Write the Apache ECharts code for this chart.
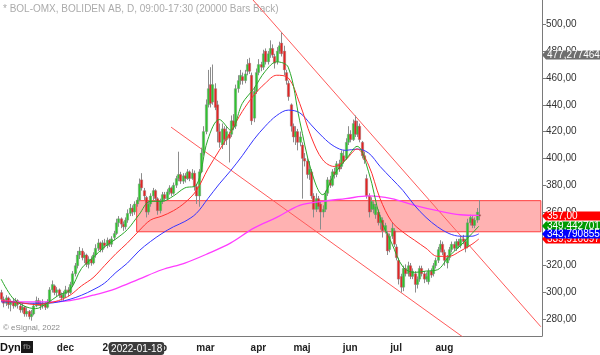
<!DOCTYPE html>
<html>
<head>
<meta charset="utf-8">
<script src="https://cdn.jsdelivr.net/npm/echarts@6/dist/echarts.min.js"></script>
<style>
html, body { margin: 0; padding: 0; background: #fff; }
#chart { width: 600px; height: 355px; }
</style>
</head>
<body>
<div id="chart"></div>
<script>
// trading calendar (OMX Stockholm), first bar and closed days
const firstDay = '2021-10-22'
const holidays = ['2021-12-24', '2021-12-31', '2022-01-06', '2022-04-15', '2022-04-18', '2022-05-26', '2022-06-06', '2022-06-24']
const slotCount = 236 // bars plus empty space on the right

const monthLabels = {
  '2021-12-01': 'dec', '2022-01-03': '2022', '2022-02-01': 'feb', '2022-03-01': 'mar',
  '2022-04-01': 'apr', '2022-05-02': 'maj', '2022-06-01': 'jun', '2022-07-01': 'jul', '2022-08-01': 'aug'
}

// daily bars
const opens = [
  300,295,292,296,291,293,290,294,290,287, 289,284,286,282,284,290,294,292,290,292,
  289,293,302,305,300,302,298,296,299,302, 300,306,314,320,328,331,326,328,321,325,
  322,328,333,337,332,337,335,339,336,341, 344,352,355,351,349,354,359,363,360,366,
  369,384,376,371,360,366,372,376,370,361, 368,373,370,375,378,374,380,385,388,383,
  387,385,390,385,389,379,372,390,404,420, 440,455,442,452,440,420,410,422,414,418,
  418,428,424,452,458,461,458,465,471,462, 430,450,464,470,468,480,472,478,482,476,
  472,480,486,480,464,456,440,424,416,420, 412,410,400,398,388,390,372,362,370,366,
  360,362,374,384,380,390,388,396,394,402, 400,412,418,414,428,418,424,412,402,385,
  372,362,362,358,360,352,354,346,344,332, 342,346,334,324,312,304,318,314,320,312,
  314,306,310,318,314,310,308,316,314,320, 324,332,336,330,322,326,332,336,333,338,
  335,340,338,334,352,355,350,354,358
]
const closes = [
  295,292,296,291,293,290,294,291,287,289, 284,286,282,284,290,294,292,290,292,289,
  293,302,306,300,302,298,296,299,302,300, 306,314,320,328,331,326,328,321,325,322,
  328,333,337,332,337,335,339,336,340,344, 352,355,351,349,354,359,363,360,366,369,
  381,378,372,360,366,372,376,370,361,368, 373,370,375,378,374,380,385,388,383,387,
  385,390,385,389,379,372,390,404,420,440, 452,441,455,438,420,412,422,414,420,415,
  428,424,452,458,462,458,463,470,465,428, 450,464,470,468,478,472,478,482,477,471,
  480,484,478,466,458,446,424,416,420,412, 416,400,398,388,392,372,362,370,364,360,
  362,374,384,380,390,388,396,392,404,398, 412,418,414,426,418,424,414,402,399,372,
  360,368,366,364,352,356,346,350,331,342, 348,336,326,310,304,318,314,320,312,316,
  306,310,318,314,310,312,316,313,320,324, 332,336,330,324,326,332,336,333,338,335,
  340,338,333,352,356,350,354,360,357
]
const lows = [
  293,289,290,288,286,288,289,288,285,285, 282,282,280,279,283,289,290,287,288,287,
  288,292,300,298,297,296,294,294,296,297, 299,304,312,318,325,324,322,319,318,320,
  321,326,331,330,330,333,333,334,334,339, 343,349,348,346,347,352,357,357,358,364,
  368,376,369,356,358,364,369,368,358,359, 366,368,369,373,372,373,378,383,381,381,
  382,384,383,384,376,366,364,389,402,418, 438,438,440,436,412,408,407,410,410,397,
  416,421,422,449,455,455,456,462,463,425, 427,448,462,465,466,470,470,475,475,467,
  470,478,476,462,455,443,420,412,410,406, 409,370,394,385,384,370,356,360,362,347,
  356,360,372,378,379,385,386,390,392,396, 399,410,412,413,416,416,412,400,396,370,
  356,360,359,355,350,347,341,344,328,330, 340,334,324,306,300,301,312,312,310,310,
  300,303,308,312,307,308,306,311,312,318, 322,330,328,320,318,324,330,331,331,333,
  333,336,330,333,350,348,348,352,354
]
const highs = [
  302,297,298,297,295,296,296,295,292,292, 290,289,287,287,292,297,296,294,295,293,
  295,304,309,306,304,303,300,301,305,304, 308,316,322,331,334,333,330,329,327,327,
  330,336,340,338,339,340,341,340,342,346, 355,357,356,353,356,362,366,365,368,371,
  385,389,378,372,368,374,378,377,371,370, 375,375,377,380,379,382,387,405,390,389,
  389,392,391,392,391,381,392,408,424,444, 466,468,470,456,443,426,426,424,424,420,
  432,433,455,462,466,464,466,474,475,464, 453,467,474,472,481,482,480,488,485,478,
  483,487,494,484,466,458,441,426,424,422, 420,412,404,400,398,392,374,374,372,368,
  365,376,386,387,392,393,398,399,406,406, 415,424,421,429,432,428,426,413,405,388,
  374,371,368,366,362,358,356,352,346,344, 352,348,336,326,314,320,321,323,322,318,
  316,312,320,320,316,315,318,318,322,326, 334,339,338,332,328,334,338,338,340,340,
  342,343,340,355,358,357,356,363,369
]

// moving averages at these bar numbers
const maIdx = [0,5,10,15,20,25,30,35,40,45,50,55,60,65,70,75,80,85,90,95,100,105,110,115,120,
  125,130,135,140,145,150,155,160,165,170,175,180,185,190,195,200,205,208]
const maFast = [310,296,290,288,292,298,302,318,326,334,340,347,358,368,368,372,378,380,414,429,
  421,441,452,465,472,468,428,391,373,388,399,409,390,356,337,319,315,316,317,327,335,344,349.44]
const maMid = [294,293,292,291,292,294,298,305,311,320,329,337,346,354,357,361,367,376,392,406,
  420,435,447,456,462,460,441,416,399,394,399,407,395,370,353,345,339,333,327,327,331,336,339.92]
const maSlow = [293,293,292,292,292,293,295,298,302,307,315,322,331,338,344,349,353,359,370,381,
  391,402,414,424,432,436,434,425,416,409,406,407,404,394,385,376,365,356,349,344,342,342,343.79]
const maLongIdx = [0,10,20,30,40,50,60,70,80,90,100,110,120,130,140,150,160,170,180,190,200,208]
const maLong = [294,293,293,294,298,303,310,317,322,329,337,348,356,365,368,370,372,370,365,361,358,357.5]

// drawn trend lines: [bar, price] end points
const trendUpper = [[109, 519.4], [235, 274.5]]
const trendLower = [[74, 423.3], [204, 263.2]]
// support / resistance box
const boxFrom = 59
const boxTop = 368.5
const boxBottom = 345.3

const yTicks = [280, 300, 320, 340, 360, 380, 400, 420, 440, 460, 480, 500]
const tagValues = [339.916097, 349.442701, 343.790855, 357.00, 477.277464]
const tagTexts = ['339,916097', '349,442701', '343,790855', '357,00', '477,277464']
const cursorDate = '2022-01-18'

function tradingDays() {
  const out = []
  const d = new Date(firstDay + 'T12:00:00Z')
  while (out.length < slotCount) {
    const wd = d.getUTCDay()
    const s = d.toISOString().slice(0, 10)
    if (wd !== 0 && wd !== 6 && !holidays.includes(s)) out.push(s)
    d.setUTCDate(d.getUTCDate() + 1)
  }
  return out
}
const dates = tradingDays()

const FONT = 'Liberation Sans, Arial, sans-serif'
const UP = '#2ec42e', DOWN = '#e42323', WICK = '#8c8c8c'
const tagColors = ['#ff0000', '#009a00', '#0000ff', '#ff0000', '#6e6e6e']

const bars = opens.map((o, i) => [i, o, closes[i], lows[i], highs[i]])
const pairs = (idx, vals) => idx.map((i, k) => [i, vals[k]])
const isMonthStart = (i) => monthLabels[dates[i]] !== undefined

function maSeries(name, data, color, width) {
  return {
    name, type: 'line', data, smooth: 0.35, showSymbol: false, z: 4,
    lineStyle: { color, width }, silent: true
  }
}

const chart = echarts.init(document.getElementById('chart'))

const baseGraphics = [
  { type: 'text', left: 3, top: 4, silent: true,
    style: { text: '* BOL-OMX, BOLIDEN AB, D, 09:00-17:30 (20000 Bars Back)', fill: '#ababab', font: '10px ' + FONT } },
  { type: 'text', left: 3, top: 324, silent: true,
    style: { text: '\u00a9 eSignal, 2022', fill: '#8a8a8a', font: '8px ' + FONT } },
  { type: 'text', left: 0, top: 342, silent: true,
    style: { text: 'Dyn', fill: '#111', font: 'bold 11px ' + FONT } },
  { type: 'rect', left: 21, top: 341, silent: true,
    shape: { width: 12, height: 12 }, style: { fill: '#1a1a1a' } },
  { type: 'text', left: 23, top: 343, silent: true,
    style: { text: 'fb', fill: '#777', font: 'bold 8px ' + FONT } }
]

chart.setOption({
  animation: false,
  grid: { left: 0, right: 58, top: 0, bottom: 19 },
  xAxis: {
    type: 'category',
    data: dates,
    boundaryGap: true,
    axisLine: { lineStyle: { color: '#7a7a7a', width: 1 } },
    axisTick: { inside: true, length: 3, alignWithLabel: true, interval: isMonthStart, lineStyle: { color: '#7a7a7a' } },
    axisLabel: {
      interval: isMonthStart,
      formatter: (v) => monthLabels[v] || '',
      fontFamily: FONT, fontSize: 10, fontWeight: 'bold', color: '#222', margin: 7
    },
    splitLine: { show: false },
    axisPointer: {
      show: true, type: 'line', value: cursorDate, status: 'show', snap: false, triggerTooltip: false,
      lineStyle: { opacity: 0 },
      label: { show: true, backgroundColor: '#3c3c3c', color: '#fff', fontFamily: FONT, fontSize: 10, padding: [2, 2, 1, 2], margin: 6 }
    }
  },
  yAxis: {
    type: 'value',
    position: 'right',
    min: 267.6,
    max: 518.1,
    axisLine: { show: true, lineStyle: { color: '#7a7a7a', width: 1 } },
    axisTick: { show: true, length: 4, customValues: yTicks, lineStyle: { color: '#7a7a7a' } },
    axisLabel: {
      customValues: yTicks,
      formatter: (v) => v.toFixed(2).replace('.', ','),
      fontFamily: FONT, fontSize: 10, color: '#333', margin: 4
    },
    splitLine: { show: false }
  },
  series: [
    {
      name: 'trendUpper', type: 'line', data: trendUpper, showSymbol: false, z: 1, silent: true,
      lineStyle: { color: '#ff5a5a', width: 1 },
      markArea: {
        silent: true,
        itemStyle: { color: 'rgba(255,0,0,0.3)', borderColor: '#ff3c3c', borderWidth: 1 },
        data: [[{ xAxis: dates[boxFrom], yAxis: boxTop }, { xAxis: dates[slotCount - 1], yAxis: boxBottom }]]
      }
    },
    {
      name: 'trendLower', type: 'line', data: trendLower, showSymbol: false, z: 1, silent: true,
      lineStyle: { color: '#ff5a5a', width: 1 }
    },
    {
      name: 'BOL', type: 'custom', z: 3, silent: true,
      data: bars,
      encode: { x: 0, y: [1, 2, 3, 4] },
      renderItem: (params, api) => {
        const i = api.value(0)
        const o = api.value(1), c = api.value(2), l = api.value(3), h = api.value(4)
        const pO = api.coord([i, o]), pC = api.coord([i, c])
        const pL = api.coord([i, l]), pH = api.coord([i, h])
        const x = Math.round(pO[0]) + 0.5
        const top = Math.min(pO[1], pC[1])
        const hgt = Math.max(1, Math.abs(pO[1] - pC[1]))
        return {
          type: 'group',
          children: [
            { type: 'line', shape: { x1: x, y1: pH[1], x2: x, y2: pL[1] }, style: { stroke: WICK, lineWidth: 1 } },
            { type: 'rect', shape: { x: x - 1.2, y: top, width: 2.4, height: hgt },
              style: { fill: c >= o ? UP : DOWN, stroke: WICK, lineWidth: 0.4 } }
          ]
        }
      }
    },
    maSeries('ma200', pairs(maLongIdx, maLong), '#ff3cff', 1.3),
    maSeries('ma50', pairs(maIdx, maSlow), '#3535ff', 1),
    maSeries('ma20', pairs(maIdx, maMid), '#ff3030', 1),
    maSeries('ma10', pairs(maIdx, maFast), '#2aa82a', 1)
  ],
  graphic: baseGraphics
})

// last-value tags on the price axis, placed through the y scale; own layer so they cover axis labels
const axisX = chart.convertToPixel({ xAxisIndex: 0 }, dates[slotCount - 1]) + 1.15
const tags = tagValues.map((v, k) => {
  const y = Math.round(chart.convertToPixel({ yAxisIndex: 0 }, v))
  return {
    type: 'group', silent: true, zlevel: 5,
    children: [
      { type: 'polygon', zlevel: 5, z: 100 + k,
        shape: { points: [[axisX, y], [axisX + 4, y - 4.5], [600, y - 4.5], [600, y + 4.5], [axisX + 4, y + 4.5]] },
        style: { fill: tagColors[k] } },
      { type: 'text', zlevel: 5, z: 100 + k, x: axisX + 5, y: y + 0.5,
        style: { text: tagTexts[k], fill: '#fff', font: '10px ' + FONT, verticalAlign: 'middle' } }
    ]
  }
})
chart.setOption({ graphic: baseGraphics.concat(tags) })
</script>
</body>
</html>
